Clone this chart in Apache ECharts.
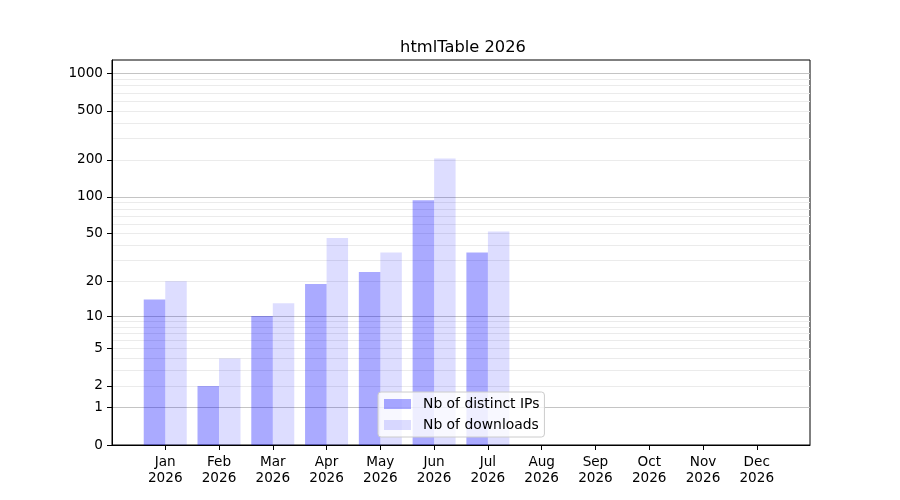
<!DOCTYPE html>
<html>
<head>
<meta charset="utf-8">
<script src="https://cdn.jsdelivr.net/npm/echarts@6/dist/echarts.min.js"></script>
<style>html,body{margin:0;padding:0;background:#fff}#c{width:900px;height:500px}</style>
</head>
<body>
<div id="c"></div>
<script>
// ---- data ----
var months = ['Jan','Feb','Mar','Apr','May','Jun','Jul','Aug','Sep','Oct','Nov','Dec'];
var year = '2026';
var distinctIPs = [14, 2, 10, 19, 24, 94, 35, 0, 0, 0, 0, 0];
var downloads   = [20, 4, 13, 46, 35, 206, 52, 0, 0, 0, 0, 0];
var yTickLabels = [0, 1, 2, 5, 10, 20, 50, 100, 200, 500, 1000];
var yMajorGrid  = [1, 10, 100, 1000];
var yMinorGrid  = [2,3,4,5,6,7,8,9,20,30,40,50,60,70,80,90,200,300,400,500,600,700,800,900];
var yTop = 1290;

// symlog-like transform log10(v+1)
function f(v){ return Math.log10(v + 1); }
function inv(t){ return Math.round(Math.pow(10, t) - 1); }

var monthIdx = months.map(function(m, i){ return i; });
var ipData = distinctIPs.map(function(v, i){ return [i - 0.2, f(v)]; });
var dlData = downloads.map(function(v, i){ return [i + 0.2, f(v)]; });

var FONT = 'DejaVu Sans';
var chart = echarts.init(document.getElementById('c'), null, {renderer: 'canvas'});

function gridAxis(values, color){
  return {
    type: 'value', min: 0, max: f(yTop), position: 'left',
    axisLine: {show: false, onZero: false}, axisLabel: {show: false},
    axisTick: {show: false, customValues: values.map(f)},
    splitLine: {show: true, lineStyle: {color: color, width: 1}}
  };
}

chart.setOption({
  animation: false,
  backgroundColor: '#ffffff',
  textStyle: {fontFamily: FONT},
  title: {
    text: 'htmlTable ' + year,
    left: 458, top: 35, textAlign: 'center',
    textStyle: {fontFamily: FONT, fontSize: 16.3, fontWeight: 'normal', color: '#000'}
  },
  grid: {left: 112, right: 90, top: 60, bottom: 55, show: true, borderColor: '#000', borderWidth: 1, backgroundColor: 'transparent'},
  legend: {
    orient: 'vertical', left: 378, top: 392,
    itemWidth: 27, itemHeight: 10, itemGap: 7,
    icon: 'rect',
    padding: [5, 5, 5, 6],
    backgroundColor: 'rgba(255,255,255,0.8)',
    borderColor: '#cccccc', borderWidth: 1, borderRadius: 3,
    textStyle: {fontFamily: FONT, fontSize: 13.9, color: '#000', padding: [0, 0, 0, 7]},
    data: ['Nb of distinct IPs', 'Nb of downloads']
  },
  xAxis: {
    type: 'value', min: -0.99, max: 11.99,
    axisLine: {show: true, onZero: false, lineStyle: {color: '#000', width: 1}},
    axisTick: {show: true, length: 5, customValues: monthIdx, lineStyle: {color: '#000'}},
    axisLabel: {
      customValues: monthIdx, margin: 9,
      fontFamily: FONT, fontSize: 13.6, color: '#000', lineHeight: 16,
      formatter: function(v){ return months[Math.round(v)] + '\n' + year; }
    },
    splitLine: {show: false}
  },
  yAxis: [
    {
      type: 'value', min: 0, max: f(yTop),
      axisLine: {show: true, onZero: false, lineStyle: {color: '#000', width: 1}},
      axisTick: {show: true, length: 5, customValues: yTickLabels.map(f), lineStyle: {color: '#000'}},
      axisLabel: {
        customValues: yTickLabels.map(f), margin: 9,
        fontFamily: FONT, fontSize: 13.6, color: '#000', padding: [2, 0, 0, 0],
        formatter: function(v){ return String(inv(v)); }
      },
      splitLine: {show: false}
    },
    gridAxis(yMinorGrid, '#ebebeb'),
    gridAxis(yMajorGrid, '#c4c4c4')
  ],
  series: [
    {
      name: 'Nb of distinct IPs', type: 'bar', data: ipData,
      barWidth: 21.5, barGap: '-100%',
      itemStyle: {color: 'rgba(0,0,255,0.333)'}
    },
    {
      name: 'Nb of downloads', type: 'bar', data: dlData,
      barWidth: 21.5, barGap: '-100%',
      itemStyle: {color: 'rgba(0,0,255,0.134)'}
    }
  ]
});
</script>
</body>
</html>
